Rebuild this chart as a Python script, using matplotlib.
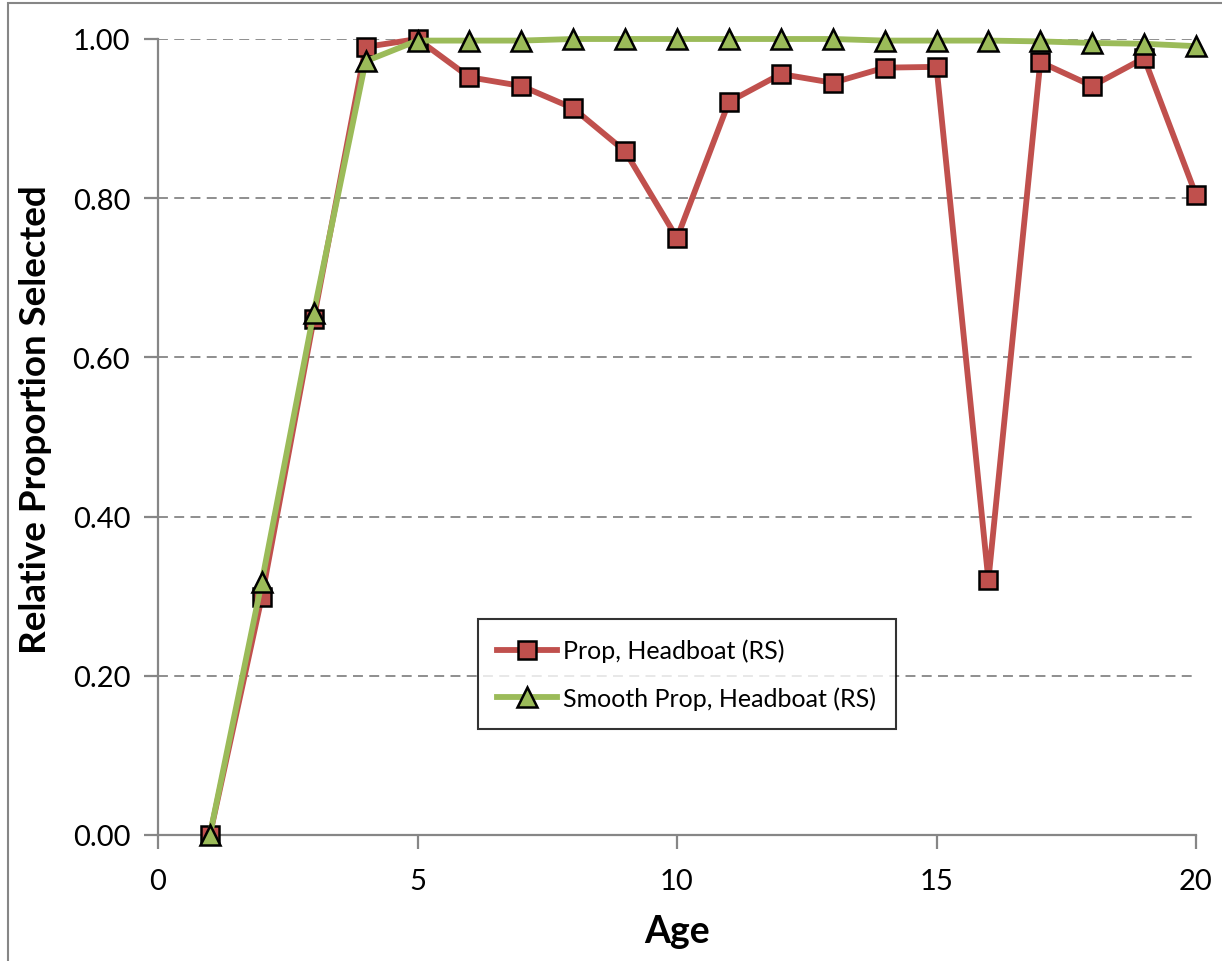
import matplotlib.pyplot as plt
from matplotlib.patches import Rectangle

# data
ages = list(range(1, 21))
prop = [0.0, 0.299, 0.648, 0.990, 1.000, 0.952, 0.941, 0.913, 0.859, 0.750,
        0.921, 0.956, 0.945, 0.964, 0.965, 0.320, 0.971, 0.941, 0.976, 0.804]
smooth = [0.0, 0.318, 0.656, 0.972, 0.998, 0.998, 0.998, 1.000, 1.000, 1.000,
          1.000, 1.000, 1.000, 0.998, 0.998, 0.998, 0.997, 0.995, 0.994, 0.991]
xticks = [0, 5, 10, 15, 20]
yticks = [0.0, 0.2, 0.4, 0.6, 0.8, 1.0]

RED = '#C0504D'
GREEN = '#9BBB59'
GREY = '#868686'
FONT = 'Lato'

fig = plt.figure(figsize=(12.22, 9.62), dpi=100)
ax = fig.add_axes([158 / 1222, 1 - 836 / 962, 1038 / 1222, 796 / 962])

# outer chart frame (only top and left edges are visible in the crop)
fig.patches.append(Rectangle((8 / 1222, -0.1), 1.2, 1 - 4 / 962 + 0.1,
                             transform=fig.transFigure, fill=False,
                             edgecolor=GREY, linewidth=1.5))

for y in yticks[1:]:
    ax.axhline(y, color=GREY, linestyle=(0, (5.5, 3.5)), linewidth=1.3, zorder=1)

ax.plot(ages, prop, color=RED, linewidth=4.2, marker='s', markersize=13.5,
        markerfacecolor=RED, markeredgecolor='black', markeredgewidth=1.8,
        label='Prop, Headboat (RS)', zorder=3, clip_on=False)
ax.plot(ages, smooth, color=GREEN, linewidth=4.2, marker='^', markersize=14.5,
        markerfacecolor=GREEN, markeredgecolor='black', markeredgewidth=1.8,
        label='Smooth Prop, Headboat (RS)', zorder=4, clip_on=False)

ax.set_xlim(0, 20)
ax.set_ylim(0, 1)
ax.set_xticks(xticks)
ax.set_yticks(yticks)
ax.set_yticklabels(['%.2f' % v for v in yticks])
for s in ['top', 'right']:
    ax.spines[s].set_visible(False)
for s in ['left', 'bottom']:
    ax.spines[s].set_color(GREY)
    ax.spines[s].set_linewidth(1.6)
ax.tick_params(direction='out', length=10, width=1.6, color=GREY,
               labelsize=21)
ax.tick_params(axis='y', pad=10)
ax.tick_params(axis='x', pad=14)
for lbl in ax.get_xticklabels() + ax.get_yticklabels():
    lbl.set_fontfamily(FONT)

ax.set_xlabel('Age', fontsize=27, fontweight='bold', family=FONT, labelpad=14)
ax.set_ylabel('Relative Proportion Selected', fontsize=26.5, fontweight='bold',
              family=FONT)
ax.yaxis.set_label_coords(-0.102, 0.523)

leg = ax.legend(loc='upper left', bbox_to_anchor=(0.308, 0.271),
                borderaxespad=0, prop={'family': FONT, 'size': 18},
                frameon=True, fancybox=False, edgecolor='black',
                handlelength=2.4, borderpad=0.78, labelspacing=0.95,
                handletextpad=0.25)
leg.get_frame().set_linewidth(1.5)

fig.savefig('out.png', dpi=100)
